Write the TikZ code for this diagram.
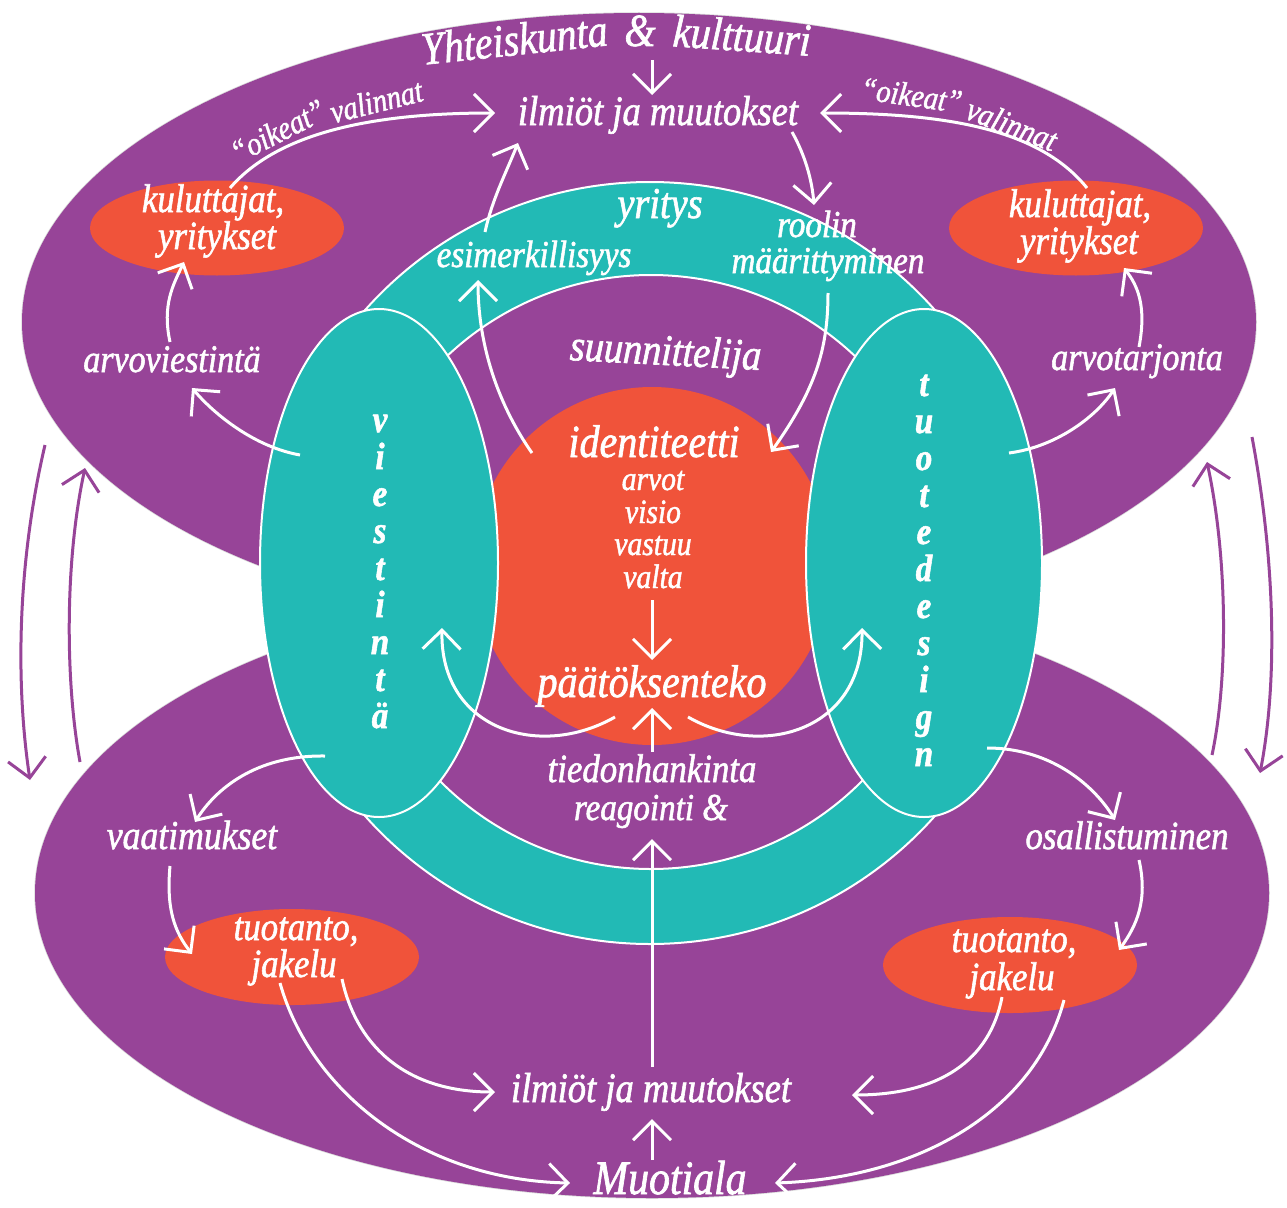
\documentclass[tikz,border=0pt]{standalone}
\usepackage{fontspec}
\usetikzlibrary{arrows.meta}
\newfontfamily\lbl{Liberation Serif}[FakeStretch=0.87,FakeBold=1.4]
\definecolor{plum}{HTML}{974498}
\definecolor{lagoon}{HTML}{22BAB5}
\definecolor{coral}{HTML}{F0533A}
\tikzset{
  lbl/.style={text=white, inner sep=0pt, anchor=base, font=\lbl\itshape\fontsize{#1}{#1}\selectfont},
  vlet/.style={text=white, inner sep=0pt, anchor=base, font=\lbl\itshape\bfseries\fontsize{38}{38}\selectfont},
  wa/.style={draw=white, line width=3pt, -{Straight Barb[length=19pt,width=38pt]}},
  pa/.style={draw=plum, line width=3pt, -{Straight Barb[length=19pt,width=38pt]}},
  rim/.style={draw=white, line width=2pt},
}
\begin{document}
\begin{tikzpicture}[x=1pt,y=-1pt]
\useasboundingbox (0,0) rectangle (1287,1207);
\fill[white] (0,0) rectangle (1287,1207);

% plum fields: society (top) and fashion field (bottom)
\draw[black!15, line width=1.5pt] (639,322) ellipse[x radius=617,y radius=309]
  (652,893) ellipse[x radius=617,y radius=305];
\fill[plum] (639,322) ellipse[x radius=617,y radius=309]
  (652,893) ellipse[x radius=617,y radius=305];

% company ring
\fill[lagoon, even odd rule] (650,563) circle[radius=381] (651,572) circle[radius=297];
\draw[rim] (650,563) circle[radius=381];
\draw[rim] (651,572) circle[radius=297];

% identity core
\fill[coral] (652,566) circle[radius=179];

% communication and product design
\filldraw[fill=lagoon, rim] (379,563) ellipse[x radius=119,y radius=254];
\filldraw[fill=lagoon, rim] (924,563) ellipse[x radius=118,y radius=254];

% actor ovals
\fill[coral] (217,228) ellipse[x radius=127,y radius=47.5];
\fill[coral] (1076,228) ellipse[x radius=127,y radius=47.5];
\fill[coral] (292,957) ellipse[x radius=127,y radius=48];
\fill[coral] (1010,965) ellipse[x radius=127,y radius=48];

% arched titles, set word by word
\node[lbl=46, rotate=6] (ykA) at (516,55) {Yhteiskunta};
\node[lbl=46] (ykB) at (640,46) {\&};
\node[lbl=46, rotate=-4] (ykC) at (741,51) {kulttuuri};
\node[lbl=33, rotate=27] (okL1) at (283,141) {“oikeat”};
\node[lbl=33, rotate=14] (okL2) at (379,112) {valinnat};
\node[lbl=33, rotate=-8] (okR1) at (910,106) {“oikeat”};
\node[lbl=33, rotate=-21] (okR2) at (1008,135) {valinnat};
\node[lbl=44, rotate=-3] (suu) at (665,365) {suunnittelija};

% labels
\node[lbl=42] (ilmT) at (658,125) {ilmiöt ja muutokset};
\node[lbl=44] (yri) at (660,218) {yritys};
\node[lbl=38] (esi) at (534,267) {esimerkillisyys};
\node[lbl=38] (roo) at (817,237) {roolin};
\node[lbl=38] (maa) at (828,273) {määrittyminen};
\node[lbl=40] (kulL) at (213,212) {kuluttajat,};
\node[lbl=40] (yriL) at (217,249) {yritykset};
\node[lbl=40] (kulR) at (1080,217) {kuluttajat,};
\node[lbl=40] (yriR) at (1079,254) {yritykset};
\node[lbl=39] (arvv) at (172,372) {arvoviestintä};
\node[lbl=39] (arvt) at (1137,370) {arvotarjonta};
\node[lbl=46] (ide) at (654,457) {identiteetti};
\node[lbl=34] (arvo) at (653,490) {arvot};
\node[lbl=34] (vis) at (653,523) {visio};
\node[lbl=34] (vas) at (653,555) {vastuu};
\node[lbl=34] (val) at (653,588) {valta};
\node[lbl=46] (paa) at (652,697) {päätöksenteko};
\node[lbl=40] (tie) at (652,782) {tiedonhankinta};
\node[lbl=38] (rea) at (651,820) {reagointi \&};
\node[lbl=41] (vaa) at (192,849) {vaatimukset};
\node[lbl=40] (osa) at (1127,849) {osallistuminen};
\node[lbl=40] (tuoL) at (296,940) {tuotanto,};
\node[lbl=40] (jakL) at (294,977) {jakelu};
\node[lbl=40] (tuoR) at (1014,952) {tuotanto,};
\node[lbl=40] (jakR) at (1012,990) {jakelu};
\node[lbl=42] (ilmB) at (651,1102) {ilmiöt ja muutokset};
\node[lbl=48] (muo) at (670,1194) {Muotiala};

% vertical words
\foreach \c [count=\i from 0] in {v,i,e,s,t,i,n,t,ä}
  \node[vlet] (vw\i) at (380,432+37*\i) {\c};
\foreach \c [count=\i from 0] in {t,u,o,t,e,d,e,s,i,g,n}
  \node[vlet] (tw\i) at (924,396+37*\i) {\c};

% arrow end points
\coordinate (ykS) at (652,60);   \coordinate (ilmTtop) at (652,95);
\coordinate (kulLtop) at (230,188); \coordinate (ilmTl) at (495,113);
\coordinate (kulRtop) at (1087,188); \coordinate (ilmTr) at (820,113);
\coordinate (esiTop) at (485,232); \coordinate (ilmTbl) at (518,143);
\coordinate (ilmTbr) at (792,132); \coordinate (rooTop) at (814,205);
\coordinate (maaBot) at (828,293); \coordinate (ideR) at (771,452);
\coordinate (ideL) at (532,453); \coordinate (esiBot) at (478,280);
\coordinate (arvvTop) at (170,342); \coordinate (kulLbot) at (184,262);
\coordinate (viesT) at (300,455); \coordinate (arvvBot) at (192,388);
\coordinate (tuotT) at (1009,453); \coordinate (arvtBot) at (1115,388);
\coordinate (arvtTop) at (1139,347); \coordinate (kulRbot) at (1124,268);
\coordinate (paaL) at (615,717); \coordinate (viesIn) at (442,628);
\coordinate (paaR) at (688,717); \coordinate (tuotIn) at (862,628);
\coordinate (valBot) at (652,600); \coordinate (paaTop) at (652,660);
\coordinate (tieTop) at (652,752); \coordinate (paaBot) at (652,708);
\coordinate (ilmBtop) at (652,1067); \coordinate (reaBot) at (652,839);
\coordinate (muoTop) at (652,1160); \coordinate (ilmBbot) at (652,1119);
\coordinate (viesB) at (325,756); \coordinate (vaaTop) at (195,822);
\coordinate (vaaBot) at (170,866); \coordinate (tuoLtop) at (192,954);
\coordinate (tuotB) at (987,748); \coordinate (osaTop) at (1115,820);
\coordinate (osaBot) at (1139,860); \coordinate (tuoRtop) at (1119,950);
\coordinate (jakLa) at (342,979); \coordinate (ilmBl) at (495,1092);
\coordinate (jakLb) at (280,983); \coordinate (muoL) at (570,1183);
\coordinate (jakRa) at (1002,997); \coordinate (ilmBr) at (852,1095);
\coordinate (jakRb) at (1064,1000); \coordinate (muoR) at (775,1183);
\coordinate (lftA) at (45,445); \coordinate (lftB) at (30,780);
\coordinate (lftC) at (80,762); \coordinate (lftD) at (85,468);
\coordinate (rgtA) at (1212,755); \coordinate (rgtB) at (1207,462);
\coordinate (rgtC) at (1252,437); \coordinate (rgtD) at (1260,773);

% white connectors
\draw[wa] (ykS) -- (ilmTtop);
\draw[wa] (kulLtop) .. controls (280,130) and (380,113) .. (ilmTl);
\draw[wa] (kulRtop) .. controls (1040,130) and (950,113) .. (ilmTr);
\draw[wa] (esiTop) .. controls (492,200) and (505,175) .. (ilmTbl);
\draw[wa] (ilmTbr) .. controls (805,155) and (812,180) .. (rooTop);
\draw[wa] (maaBot) .. controls (828,350) and (815,390) .. (ideR);
\draw[wa] (ideL) .. controls (495,400) and (478,340) .. (esiBot);
\draw[wa] (arvvTop) .. controls (162,305) and (173,285) .. (kulLbot);
\draw[wa] (viesT) .. controls (255,447) and (215,415) .. (arvvBot);
\draw[wa] (tuotT) .. controls (1055,447) and (1095,418) .. (arvtBot);
\draw[wa] (arvtTop) .. controls (1147,305) and (1137,285) .. (kulRbot);
\draw[wa] (paaL) .. controls (540,760) and (440,730) .. (viesIn);
\draw[wa] (paaR) .. controls (763,760) and (863,730) .. (tuotIn);
\draw[wa] (valBot) -- (paaTop);
\draw[wa] (tieTop) -- (paaBot);
\draw[wa] (ilmBtop) -- (reaBot);
\draw[wa] (muoTop) -- (ilmBbot);
\draw[wa] (viesB) .. controls (255,755) and (215,790) .. (vaaTop);
\draw[wa] (vaaBot) .. controls (166,910) and (175,932) .. (tuoLtop);
\draw[wa] (tuotB) .. controls (1055,748) and (1097,790) .. (osaTop);
\draw[wa] (osaBot) .. controls (1148,900) and (1137,925) .. (tuoRtop);
\draw[wa] (jakLa) .. controls (355,1040) and (400,1092) .. (ilmBl);
\draw[wa] (jakLb) .. controls (310,1090) and (420,1180) .. (muoL);
\draw[wa] (jakRa) .. controls (990,1060) and (940,1095) .. (ilmBr);
\draw[wa] (jakRb) .. controls (1035,1110) and (920,1178) .. (muoR);

% plum side connectors
\draw[pa] (lftA) .. controls (18,560) and (15,680) .. (lftB);
\draw[pa] (lftC) .. controls (65,680) and (65,560) .. (lftD);
\draw[pa] (rgtA) .. controls (1228,680) and (1228,560) .. (rgtB);
\draw[pa] (rgtC) .. controls (1275,560) and (1278,680) .. (rgtD);
\end{tikzpicture}
\end{document}
